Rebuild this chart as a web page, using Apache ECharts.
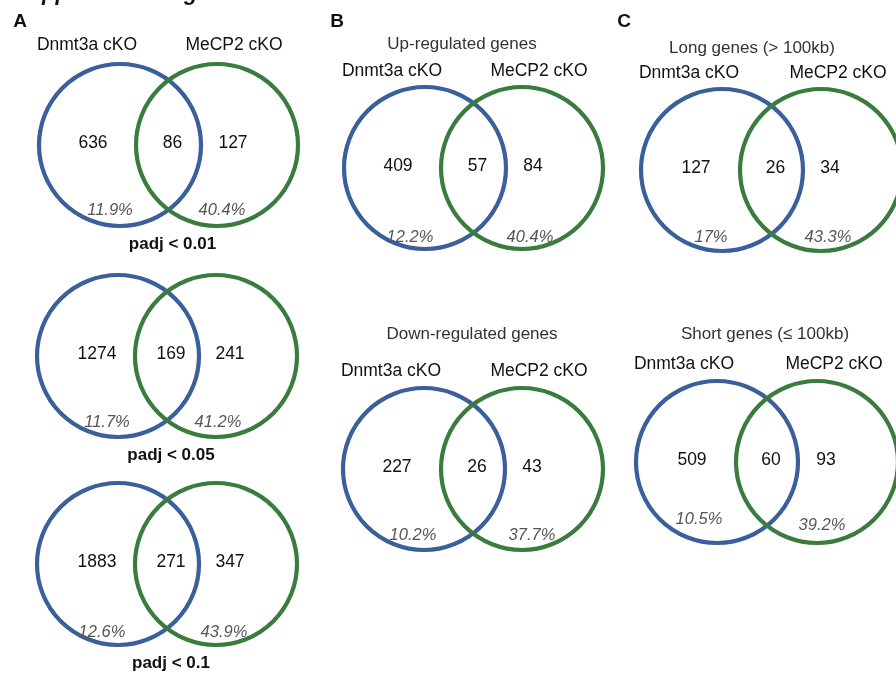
<!DOCTYPE html>
<html>
<head>
<meta charset="utf-8">
<script src="https://cdn.jsdelivr.net/npm/echarts@6/dist/echarts.min.js"></script>
<style>
html,body{margin:0;padding:0;background:#fff;}
#chart{width:896px;height:679px;}
</style>
</head>
<body>
<div id="chart"></div>
<script>
// ---- data ----
const setNames = ['Dnmt3a cKO', 'MeCP2 cKO'];
const panelLetters = ['A', 'B', 'C'];
const panelTitles = ['', '', '', 'Up-regulated genes', 'Down-regulated genes', 'Long genes (> 100kb)', 'Short genes (\u2264 100kb)'];
const captions = ['padj < 0.01', 'padj < 0.05', 'padj < 0.1', '', '', '', ''];
const showSetNames = [true, false, false, true, true, true, true];
const dnmt3aOnly = [636, 1274, 1883, 409, 227, 127, 509];
const overlap = [86, 169, 271, 57, 26, 26, 60];
const mecp2Only = [127, 241, 347, 84, 43, 34, 93];
const dnmt3aPct = ['11.9%', '11.7%', '12.6%', '12.2%', '10.2%', '17%', '10.5%'];
const mecp2Pct = ['40.4%', '41.2%', '43.9%', '40.4%', '37.7%', '43.3%', '39.2%'];
const figureHeading = 'Supplemental Figure';

// ---- layout (positions in chart units = pixels) ----
const layout = [
  {bx:120, by:145, gx:217, tx:0,   ty:0,   sy:-100, ln:-27, rn:16, lpx:-10, lpy:65, rpx:5,  rpy:65},
  {bx:118, by:356, gx:216, tx:0,   ty:0,   sy:-98,  ln:-21, rn:14, lpx:-11, lpy:66, rpx:2,  rpy:66},
  {bx:118, by:564, gx:216, tx:0,   ty:0,   sy:-98,  ln:-21, rn:14, lpx:-16, lpy:68, rpx:8,  rpy:68},
  {bx:425, by:168, gx:522, tx:462, ty:44,  sy:-97,  ln:-27, rn:11, lpx:-15, lpy:69, rpx:8,  rpy:69},
  {bx:424, by:469, gx:522, tx:472, ty:334, sy:-98,  ln:-27, rn:10, lpx:-11, lpy:66, rpx:10, rpy:66},
  {bx:722, by:170, gx:821, tx:752, ty:48,  sy:-97,  ln:-26, rn:9,  lpx:-11, lpy:67, rpx:7,  rpy:67},
  {bx:717, by:462, gx:817, tx:765, ty:334, sy:-98,  ln:-25, rn:9,  lpx:-18, lpy:57, rpx:5,  rpy:63}
];
const letterPos = [[20, 22], [337, 22], [624, 22]];
const R = 81;
const BLUE = '#3a5f9b', GREEN = '#3a7c3e';
const FONT = "'Liberation Sans', Arial, Helvetica, sans-serif";

// circles
const circleData = [];
layout.forEach((p, i) => {
  circleData.push([p.bx, p.by, R, 0]);
  circleData.push([p.gx, p.by, R, 1]);
});

// text labels
const labels = [];
function add(x, y, text, kind) { if (text !== '') labels.push({x, y, text: String(text), kind}); }
labels.push({x: 14, y: 5, text: figureHeading, kind: 'heading'});
panelLetters.forEach((l, i) => add(letterPos[i][0], letterPos[i][1], l, 'letter'));
layout.forEach((p, i) => {
  const mid = (p.bx + p.gx) / 2;
  if (showSetNames[i]) {
    add(p.bx - 33, p.by + p.sy, setNames[0], 'set');
    add(p.gx + 17, p.by + p.sy, setNames[1], 'set');
  }
  add(p.bx + p.ln, p.by - 2, dnmt3aOnly[i], 'num');
  add(mid + 4, p.by - 2, overlap[i], 'num');
  add(p.gx + p.rn, p.by - 2, mecp2Only[i], 'num');
  add(p.bx + p.lpx, p.by + p.lpy, dnmt3aPct[i], 'pct');
  add(p.gx + p.rpx, p.by + p.rpy, mecp2Pct[i], 'pct');
  add(mid + 4, p.by + 99, captions[i], 'caption');
  add(p.tx, p.ty, panelTitles[i], 'title');
});

const styles = {
  heading: {font: 'italic bold 22px ' + FONT, fill: '#111', align: 'left', verticalAlign: 'bottom'},
  letter:  {font: 'bold 19px ' + FONT, fill: '#111', align: 'center', verticalAlign: 'middle'},
  set:     {font: '17.5px ' + FONT, fill: '#111', align: 'center', verticalAlign: 'middle'},
  num:     {font: '17.5px ' + FONT, fill: '#111', align: 'center', verticalAlign: 'middle'},
  pct:     {font: 'italic 16.5px ' + FONT, fill: '#555', align: 'center', verticalAlign: 'middle'},
  caption: {font: 'bold 17px ' + FONT, fill: '#111', align: 'center', verticalAlign: 'middle'},
  title:   {font: '17px ' + FONT, fill: '#333', align: 'center', verticalAlign: 'middle'}
};

const chart = echarts.init(document.getElementById('chart'), null, {renderer: 'canvas'});
chart.setOption({
  animation: false,
  backgroundColor: '#ffffff',
  grid: {left: 0, right: 0, top: 0, bottom: 0},
  xAxis: {type: 'value', min: 0, max: 896, show: false},
  yAxis: {type: 'value', min: 0, max: 679, inverse: true, show: false},
  series: [
    {
      type: 'custom',
      name: 'circles',
      clip: false,
      data: circleData,
      renderItem: function (params, api) {
        const c = api.coord([api.value(0), api.value(1)]);
        const s = api.size([api.value(2), api.value(2)]);
        return {
          type: 'circle',
          shape: {cx: c[0], cy: c[1], r: s[0]},
          style: {fill: 'none', stroke: api.value(3) === 0 ? BLUE : GREEN, lineWidth: 4.2}
        };
      }
    },
    {
      type: 'custom',
      name: 'labels',
      clip: false,
      data: labels.map(l => [l.x, l.y]),
      renderItem: function (params, api) {
        const l = labels[params.dataIndex];
        const c = api.coord([api.value(0), api.value(1)]);
        const st = styles[l.kind];
        return {
          type: 'text',
          x: c[0], y: c[1],
          style: Object.assign({text: l.text}, st)
        };
      }
    }
  ]
});
</script>
</body>
</html>
